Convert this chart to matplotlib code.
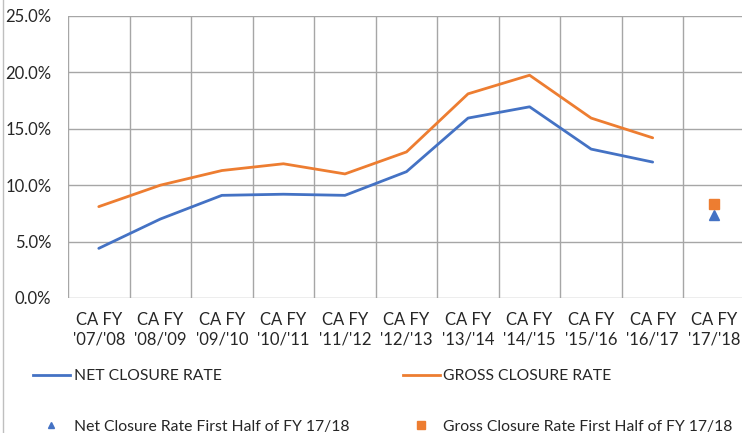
import matplotlib
matplotlib.use("Agg")
import matplotlib.pyplot as plt
from matplotlib.lines import Line2D
from matplotlib.ticker import FuncFormatter, FixedLocator

plt.rcParams["font.family"] = ["Lato", "DejaVu Sans"]

years = ["'07/'08", "'08/'09", "'09/'10", "'10/'11", "'11/'12", "'12/'13",
         "'13/'14", "'14/'15", "'15/'16", "'16/'17", "'17/'18"]
net_rate = [4.4, 7.0, 9.1, 9.2, 9.1, 11.2, 15.95, 16.95, 13.2, 12.05]
gross_rate = [8.1, 10.0, 11.3, 11.9, 11.0, 12.95, 18.1, 19.75, 15.95, 14.2]
net_half = 7.4
gross_half = 8.3

BLUE, ORANGE, GRID = "#4472C4", "#ED7D31", "#A6A6A6"
TXT = "#262626"

fig = plt.figure(figsize=(7.42, 4.33), dpi=100)
ax = fig.add_axes([68/742, 1-298/433, 677/742, 282/433])

x = list(range(len(net_rate)))
ax.plot(x, net_rate, color=BLUE, lw=2.0, solid_capstyle="round")
ax.plot(x, gross_rate, color=ORANGE, lw=2.0, solid_capstyle="round")
ax.plot([10], [net_half], "^", color=BLUE, ms=7, ls="none")
ax.plot([10], [gross_half], "s", color=ORANGE, ms=6.5, ls="none")

ax.set_xlim(-0.5, len(years) - 0.5)
ax.set_ylim(0, 25)
ax.set_xticks(range(len(years)))
ax.set_xticklabels([f"CA FY\n{y}" for y in years])
ax.xaxis.set_minor_locator(FixedLocator([i - 0.5 for i in range(len(years) + 1)]))
ax.set_yticks([0, 5, 10, 15, 20, 25])
ax.yaxis.set_major_formatter(FuncFormatter(lambda v, _: f"{v:.1f}%"))
ax.tick_params(axis="both", which="both", length=0, labelsize=12, colors=TXT)
ax.tick_params(axis="x", pad=10)
ax.tick_params(axis="y", pad=12)
for lbl in ax.get_xticklabels():
    lbl.set_linespacing(1.3)
ax.grid(axis="y", which="major", color=GRID, lw=1)
ax.grid(axis="x", which="minor", color=GRID, lw=1)
ax.set_axisbelow(True)
for s in ax.spines.values():
    s.set_visible(False)

# chart border (left edge only visible)
fig.add_artist(Line2D([2.5/742, 2.5/742], [0, 1], color="#BFBFBF", lw=1))

handles = [Line2D([], [], color=BLUE, lw=2.0),
           Line2D([], [], marker="^", color=BLUE, ls="none", ms=5),
           Line2D([], [], color=ORANGE, lw=2.0),
           Line2D([], [], marker="s", color=ORANGE, ls="none", ms=6)]
labels = ["NET CLOSURE RATE", "Net Closure Rate First Half of FY 17/18",
          "GROSS CLOSURE RATE", "Gross Closure Rate First Half of FY 17/18"]
fig.legend(handles, labels, ncol=2, loc="upper left", bbox_to_anchor=(33/742, 1-369/433),
           frameon=False, fontsize=11.3, borderpad=0, borderaxespad=0,
           handlelength=2.35, handletextpad=0.25, columnspacing=3.4,
           labelspacing=2.35, labelcolor=TXT)

fig.savefig("out.png", dpi=100)
